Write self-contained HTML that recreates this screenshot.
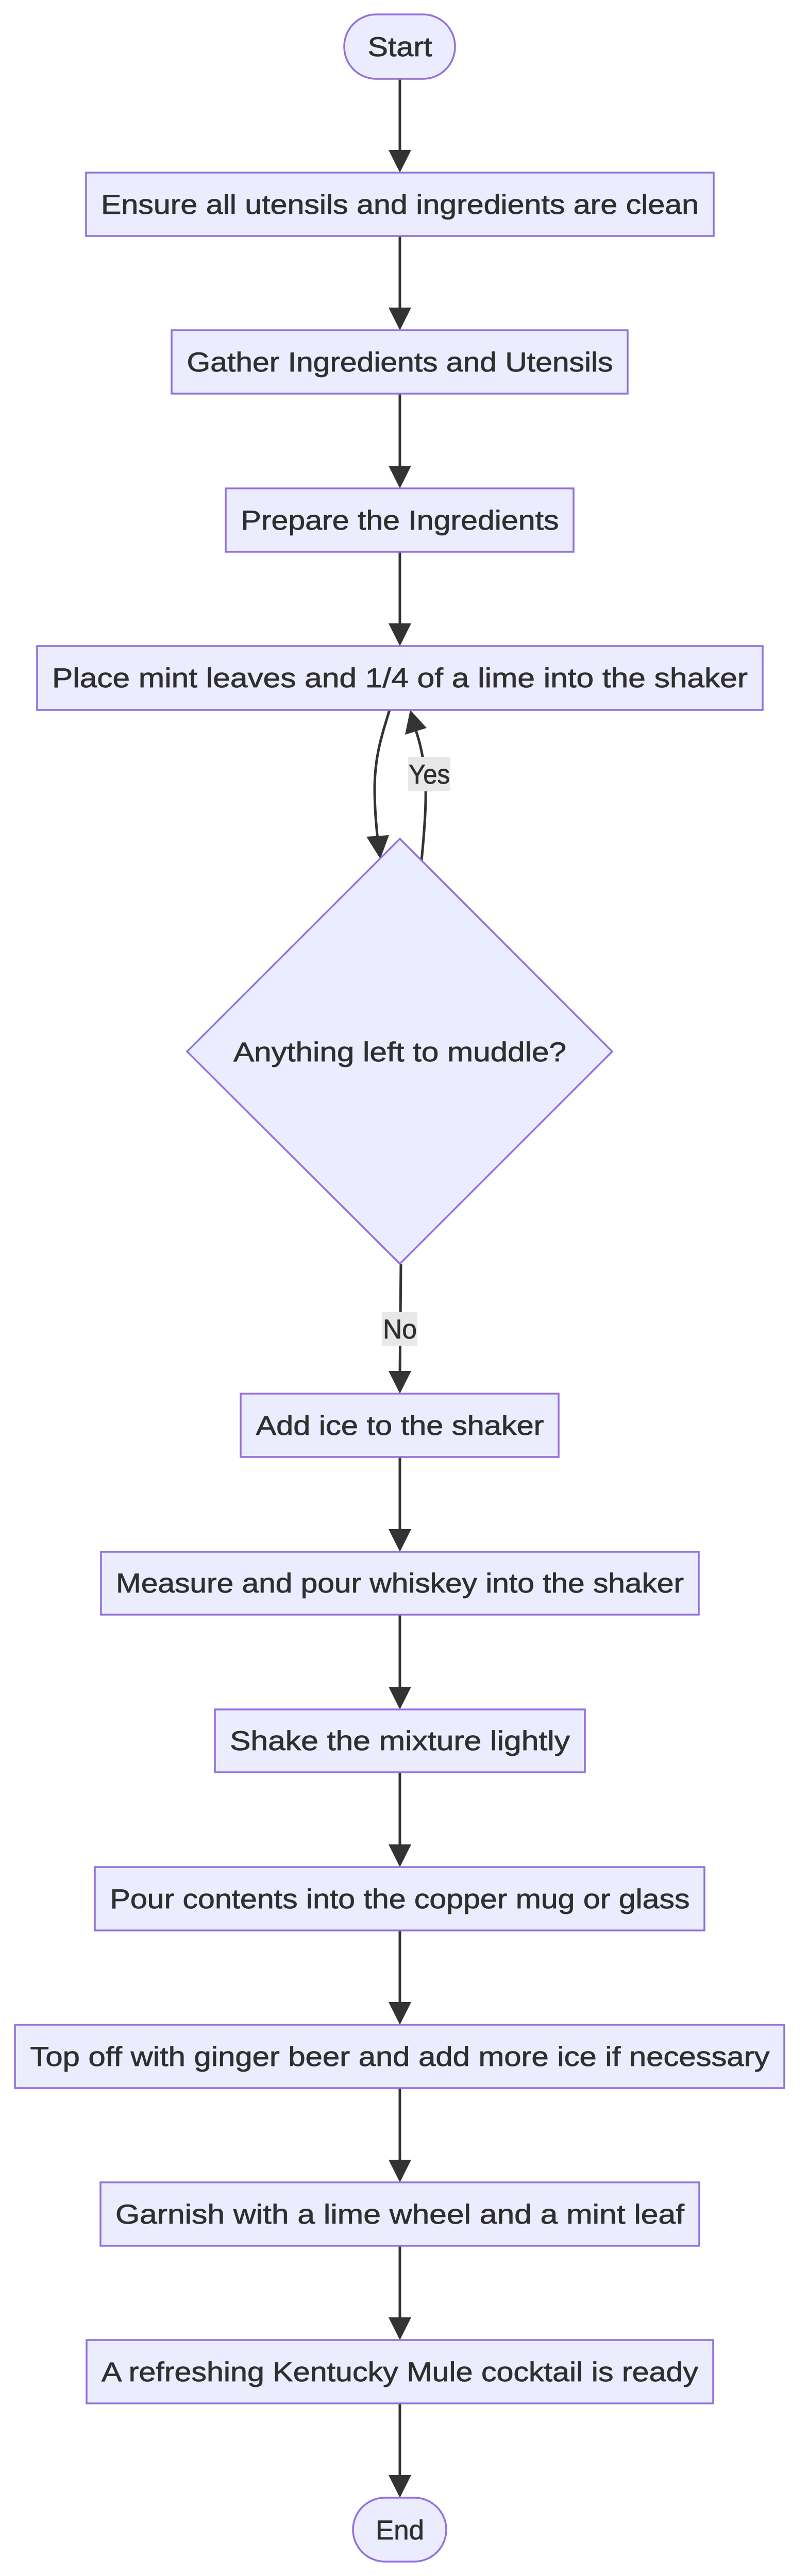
<!DOCTYPE html>
<html><head><meta charset="utf-8"><style>
html,body{margin:0;padding:0;background:#fff;width:1568px;height:5054px;overflow:hidden;}
svg{display:block;position:absolute;left:0;top:0;}
text{font-family:"Liberation Sans","DejaVu Sans",sans-serif;fill:#2f2f2f;font-size:53px;stroke:#2f2f2f;stroke-width:0.8;}
.n{fill:#ECECFF;stroke:#9370DB;stroke-width:3.5;}
.e{stroke:#333;stroke-width:5;fill:none;}
.h{fill:#333;}
</style></head><body>
<svg width="1568" height="5054" viewBox="0 0 1568 5054" xmlns="http://www.w3.org/2000/svg">
<g>
<line class="e" x1="776" y1="153" x2="776" y2="300"/><polygon class="h" points="754,291 798,291 776,335"/>
<line class="e" x1="776" y1="458" x2="776" y2="606"/><polygon class="h" points="754,597 798,597 776,641"/>
<line class="e" x1="776" y1="764" x2="776" y2="913"/><polygon class="h" points="754,904 798,904 776,948"/>
<line class="e" x1="776" y1="1071" x2="776" y2="1219"/><polygon class="h" points="754,1210 798,1210 776,1254"/>
<line class="e" x1="778" y1="2453" x2="776" y2="2670"/><polygon class="h" points="754,2661 798,2661 776,2705"/>
<line class="e" x1="776" y1="2828" x2="776" y2="2977"/><polygon class="h" points="754,2968 798,2968 776,3012"/>
<line class="e" x1="776" y1="3134" x2="776" y2="3283"/><polygon class="h" points="754,3274 798,3274 776,3318"/>
<line class="e" x1="776" y1="3440" x2="776" y2="3589"/><polygon class="h" points="754,3580 798,3580 776,3624"/>
<line class="e" x1="776" y1="3747" x2="776" y2="3895"/><polygon class="h" points="754,3886 798,3886 776,3930"/>
<line class="e" x1="776" y1="4053" x2="776" y2="4201"/><polygon class="h" points="754,4192 798,4192 776,4236"/>
<line class="e" x1="776" y1="4359" x2="776" y2="4507"/><polygon class="h" points="754,4498 798,4498 776,4542"/>
<line class="e" x1="776" y1="4665" x2="776" y2="4813"/><polygon class="h" points="754,4804 798,4804 776,4848"/>
</g>
<path class="e" d="M756,1378 C740,1430 727,1470 727,1530 C727,1570 730,1600 733,1630"/>
<polygon class="h" points="711,1624 755,1621 738,1667"/>
<path class="e" d="M818,1670 C823,1620 827,1570 826,1530 C825,1480 815,1440 806,1415"/>
<polygon class="h" points="786,1426 828,1413 796,1378"/>
<rect class="n" x="668" y="28" width="215" height="125" rx="62" ry="62"/>
<text x="776" y="109" text-anchor="middle" textLength="125" lengthAdjust="spacingAndGlyphs">Start</text>
<rect class="n" x="167" y="335" width="1218" height="123"/>
<text x="776" y="415" text-anchor="middle" textLength="1160" lengthAdjust="spacingAndGlyphs">Ensure all utensils and ingredients are clean</text>
<rect class="n" x="333" y="641" width="885" height="123"/>
<text x="776" y="721" text-anchor="middle" textLength="827" lengthAdjust="spacingAndGlyphs">Gather Ingredients and Utensils</text>
<rect class="n" x="438" y="948" width="675" height="123"/>
<text x="776" y="1028" text-anchor="middle" textLength="617" lengthAdjust="spacingAndGlyphs">Prepare the Ingredients</text>
<rect class="n" x="72" y="1254" width="1408" height="124"/>
<text x="776" y="1334" text-anchor="middle" textLength="1350" lengthAdjust="spacingAndGlyphs">Place mint leaves and 1/4 of a lime into the shaker</text>
<polygon class="n" points="776,1628 1188,2041 776,2453 363,2041"/>
<text x="776" y="2060" text-anchor="middle" textLength="646" lengthAdjust="spacingAndGlyphs">Anything left to muddle?</text>
<rect class="n" x="467" y="2705" width="617" height="123"/>
<text x="776" y="2785" text-anchor="middle" textLength="559" lengthAdjust="spacingAndGlyphs">Add ice to the shaker</text>
<rect class="n" x="196" y="3012" width="1160" height="122"/>
<text x="776" y="3091" text-anchor="middle" textLength="1102" lengthAdjust="spacingAndGlyphs">Measure and pour whiskey into the shaker</text>
<rect class="n" x="417" y="3318" width="718" height="122"/>
<text x="776" y="3397" text-anchor="middle" textLength="660" lengthAdjust="spacingAndGlyphs">Shake the mixture lightly</text>
<rect class="n" x="184" y="3624" width="1183" height="123"/>
<text x="776" y="3704" text-anchor="middle" textLength="1125" lengthAdjust="spacingAndGlyphs">Pour contents into the copper mug or glass</text>
<rect class="n" x="29" y="3930" width="1493" height="123"/>
<text x="776" y="4010" text-anchor="middle" textLength="1435" lengthAdjust="spacingAndGlyphs">Top off with ginger beer and add more ice if necessary</text>
<rect class="n" x="195" y="4236" width="1162" height="123"/>
<text x="776" y="4316" text-anchor="middle" textLength="1104" lengthAdjust="spacingAndGlyphs">Garnish with a lime wheel and a mint leaf</text>
<rect class="n" x="168" y="4542" width="1216" height="123"/>
<text x="776" y="4622" text-anchor="middle" textLength="1158" lengthAdjust="spacingAndGlyphs">A refreshing Kentucky Mule cocktail is ready</text>
<rect class="n" x="685" y="4848" width="181" height="124" rx="62" ry="62"/>
<text x="776" y="4929" text-anchor="middle" textLength="94" lengthAdjust="spacingAndGlyphs">End</text>
<rect x="792" y="1469" width="82" height="67" fill="#e8e8e8"/>
<text x="833" y="1521" text-anchor="middle" textLength="80" lengthAdjust="spacingAndGlyphs">Yes</text>
<rect x="741" y="2547" width="69" height="65" fill="#e8e8e8"/>
<text x="776" y="2598" text-anchor="middle" textLength="66" lengthAdjust="spacingAndGlyphs">No</text>
</svg>
</body></html>
